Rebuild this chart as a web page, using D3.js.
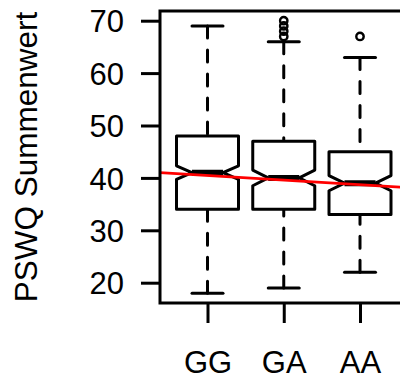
<!DOCTYPE html>
<html>
<head>
<meta charset="utf-8">
<script src="https://cdn.jsdelivr.net/npm/d3@7"></script>
<style>
  body { margin: 0; background: #fff; }
  svg { display: block; font-family: "Liberation Sans", Arial, sans-serif; }
</style>
</head>
<body>
<div id="chart"></div>
<script>
// Boxplot PSWQ nach Genotyp
const genotypes = ["GG", "GA", "AA"]
const whiskerLow = [18, 19, 22]
const q1 = [34, 34, 33]
const median = [41, 40, 39]
const q3 = [48, 47, 45]
const whiskerHigh = [69, 66, 63]
const notchHalf = [1.3, 1.5, 1.45]       // half width of the notch, in value units
const outliers = [[], [67, 68, 69, 70], [67]]
const yTicks = [20, 30, 40, 50, 60, 70]
const regIntercept = 41.33             // red regression line, y = a + b*x
const regSlope = -0.88
const yLabel = "PSWQ Summenwert"

const width = 400
const height = 381
const plotLeft = 160
const plotTop = 11
const plotBottom = 303
const lw = 3
const boxHalf = 31
const fontSize = "31px"

const svg = d3.select("#chart")
  .append("svg")
  .attr("width", width)
  .attr("height", height)

const xScale = d3.scaleLinear([1, 3], [207.5, 360])
const yScale = d3.scaleLinear([20, 70], [282.7, 20.7])
const plotRight = xScale(3.62)

// clip for the plot region
svg.append("clipPath").attr("id", "plotclip")
  .append("rect")
  .attr("x", plotLeft).attr("y", plotTop)
  .attr("width", plotRight - plotLeft).attr("height", plotBottom - plotTop)

// Y axis
svg.append("g")
  .attr("transform", `translate(${plotLeft},0)`)
  .call(d3.axisLeft(yScale).tickValues(yTicks).tickSize(19).tickPadding(17))
  .call(g => g.select(".domain").remove())
  .call(g => g.selectAll(".tick line").attr("stroke", "#000").attr("stroke-width", lw))
  .call(g => g.selectAll(".tick text")
    .attr("fill", "#000")
    .style("font-size", fontSize)
    .attr("dy", "0.36em"))

// X axis
svg.append("g")
  .attr("transform", `translate(0,${plotBottom})`)
  .call(d3.axisBottom(xScale).tickValues([1, 2, 3]).tickFormat(i => genotypes[i - 1])
    .tickSize(20).tickPadding(28))
  .call(g => g.select(".domain").remove())
  .call(g => g.selectAll(".tick line").attr("stroke", "#000").attr("stroke-width", lw))
  .call(g => g.selectAll(".tick text")
    .attr("fill", "#000")
    .style("font-size", fontSize))

// Y label
svg.append("text")
  .attr("transform", `translate(37,${(plotTop + plotBottom) / 2}) rotate(-90)`)
  .attr("text-anchor", "middle")
  .attr("fill", "#000")
  .style("font-size", "31.5px")
  .text(yLabel)

const plot = svg.append("g").attr("clip-path", "url(#plotclip)")

const boxes = genotypes.map((g, i) => ({
  g, x: xScale(i + 1), lo: whiskerLow[i], q1: q1[i], med: median[i], q3: q3[i],
  hi: whiskerHigh[i], n: notchHalf[i], out: outliers[i]
}))

// whiskers (dashed, from whisker end to box)
boxes.forEach(b => {
  [[b.lo, b.q1], [b.hi, b.q3]].forEach(([a, c]) => {
    plot.append("line")
      .attr("x1", b.x).attr("x2", b.x)
      .attr("y1", yScale(a)).attr("y2", yScale(c))
      .attr("stroke", "#000").attr("stroke-width", lw)
      .attr("stroke-dasharray", "12 12")
      .attr("stroke-linecap", "round")
  })
  // staples
  ;[b.lo, b.hi].forEach(v => {
    plot.append("line")
      .attr("x1", b.x - boxHalf / 2).attr("x2", b.x + boxHalf / 2)
      .attr("y1", yScale(v)).attr("y2", yScale(v))
      .attr("stroke", "#000").attr("stroke-width", lw)
      .attr("stroke-linecap", "round")
  })
  // notched box
  const L = b.x - boxHalf, R = b.x + boxHalf
  const Lm = b.x - boxHalf / 2, Rm = b.x + boxHalf / 2
  const pts = [
    [L, b.q1], [L, b.med - b.n], [Lm, b.med], [L, b.med + b.n], [L, b.q3],
    [R, b.q3], [R, b.med + b.n], [Rm, b.med], [R, b.med - b.n], [R, b.q1]
  ].map(([x, v]) => [x, yScale(v)])
  plot.append("path")
    .attr("d", d3.line()(pts) + "Z")
    .attr("fill", "#fff")
    .attr("stroke", "#000").attr("stroke-width", lw)
    .attr("stroke-linejoin", "round")
  // median
  plot.append("line")
    .attr("x1", Lm).attr("x2", Rm)
    .attr("y1", yScale(b.med)).attr("y2", yScale(b.med))
    .attr("stroke", "#000").attr("stroke-width", 6)
  // outliers
  plot.selectAll(null).data(b.out).enter()
    .append("circle")
    .attr("cx", b.x).attr("cy", d => yScale(d))
    .attr("r", 3.7)
    .attr("fill", "none")
    .attr("stroke", "#000").attr("stroke-width", 2.4)
})

// regression line
const x0 = xScale.invert(plotLeft), x1 = xScale.invert(plotRight)
plot.append("line")
  .attr("x1", xScale(x0)).attr("x2", xScale(x1))
  .attr("y1", yScale(regIntercept + regSlope * x0))
  .attr("y2", yScale(regIntercept + regSlope * x1))
  .attr("stroke", "#ff0000").attr("stroke-width", 2.8)

// plot box
svg.append("rect")
  .attr("x", plotLeft).attr("y", plotTop)
  .attr("width", plotRight - plotLeft).attr("height", plotBottom - plotTop)
  .attr("fill", "none")
  .attr("stroke", "#000").attr("stroke-width", lw)
</script>
</body>
</html>
